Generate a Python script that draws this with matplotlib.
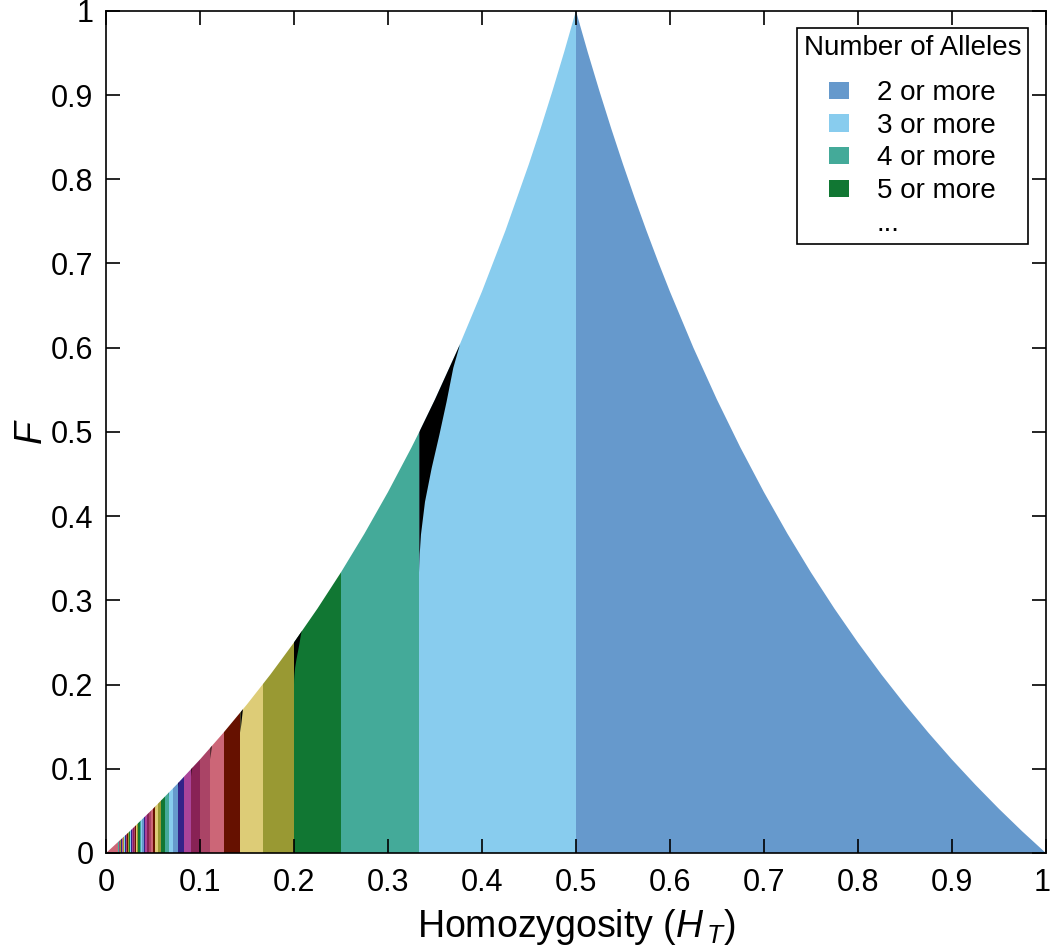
import numpy as np
import matplotlib
matplotlib.use("Agg")
import matplotlib.pyplot as plt
import matplotlib.transforms as mtransforms
from matplotlib.patches import Polygon, Patch

plt.rcParams["font.family"] = ["Liberation Sans", "DejaVu Sans"]
plt.rcParams["mathtext.fontset"] = "custom"
plt.rcParams["mathtext.rm"] = "Liberation Sans"
plt.rcParams["mathtext.it"] = "Liberation Sans:italic"

# upper envelope of attainable F
env_h_left = [0.0, 0.025, 0.05, 0.075, 0.1, 0.125, 0.15, 0.175, 0.2, 0.225, 0.25, 0.275,
              0.3, 0.325, 0.3333, 0.35, 0.375, 0.4, 0.425, 0.45, 0.4625, 0.475, 0.4875, 0.5]
env_f_left = [0.0, 0.0256, 0.0526, 0.0811, 0.1111, 0.1429, 0.1765, 0.2121, 0.25, 0.2903, 0.3333, 0.3793,
              0.4286, 0.4815, 0.5, 0.5385, 0.6, 0.6667, 0.7391, 0.8182, 0.8605, 0.9048, 0.9512, 1.0]
env_h_right = [0.5, 0.5125, 0.525, 0.5375, 0.55, 0.5625, 0.575, 0.5875, 0.6, 0.625, 0.65, 0.675,
               0.7, 0.725, 0.75, 0.775, 0.8, 0.825, 0.85, 0.875, 0.9, 0.925, 0.95, 0.975, 1.0]
env_f_right = [1.0, 0.9512, 0.9048, 0.8605, 0.8182, 0.7778, 0.7391, 0.7021, 0.6667, 0.6, 0.5385, 0.4815,
               0.4286, 0.3793, 0.3333, 0.2903, 0.25, 0.2121, 0.1765, 0.1429, 0.1111, 0.0811, 0.0526, 0.0256, 0.0]

# left edge of each "K or more" band, K = 2, 3, 4, ...
band_left = [0.5, 0.3333, 0.25, 0.2, 0.1667, 0.1429, 0.125, 0.1111, 0.1, 0.0909,
             0.0833, 0.0769, 0.0714, 0.0667, 0.0625, 0.0588, 0.0556, 0.0526, 0.05, 0.0476,
             0.0455, 0.0435, 0.0417, 0.04, 0.0385, 0.037, 0.0357, 0.0345, 0.0333, 0.0323,
             0.0313, 0.0303, 0.0294, 0.0286, 0.0278, 0.027, 0.0263, 0.0256, 0.025, 0.0244,
             0.0238, 0.0233, 0.0227, 0.0222, 0.0217, 0.0213, 0.0208, 0.0204, 0.02, 0.0196,
             0.0192, 0.0189, 0.0185, 0.0182, 0.0179, 0.0175, 0.0172, 0.0169, 0.0167, 0.0164,
             0.0161, 0.0159, 0.0156, 0.0154, 0.0152, 0.0149, 0.0147, 0.0145, 0.0143, 0.0141,
             0.0139, 0.0137, 0.0135, 0.0133, 0.0132, 0.013, 0.0128, 0.0127, 0.0125, 0.0]
palette = ["#6699CC", "#88CCEE", "#44AA99", "#117733", "#999933", "#DDCC77",
           "#661100", "#CC6677", "#AA4466", "#882255", "#AA4499", "#332288"]

# black (unreachable) wedges, K = 3 and 5 traced, smaller odd K as triangles
black_h3 = [0.3333, 0.3338, 0.3351, 0.3394, 0.3465, 0.3546, 0.3624, 0.3695, 0.3759]
black_f3 = [0.333, 0.355, 0.378, 0.417, 0.457, 0.496, 0.536, 0.576, 0.601]
black_h5 = [0.2, 0.2001, 0.2004, 0.2012, 0.2026, 0.2042, 0.2058, 0.2072, 0.2085]
black_f5 = [0.2, 0.2052, 0.2107, 0.2202, 0.2297, 0.239, 0.2486, 0.2582, 0.265]
small_left = [0.1429, 0.1111, 0.0909, 0.0769, 0.0667, 0.0588, 0.0526, 0.0476]
small_bottom = [0.1429, 0.1111, 0.0909, 0.0769, 0.0667, 0.0588, 0.0526, 0.0476]
small_right = [0.1458, 0.1125, 0.0917, 0.0774, 0.067, 0.059, 0.0528, 0.0477]
small_top = [0.172, 0.128, 0.102, 0.085, 0.073, 0.064, 0.057, 0.051]

legend_labels = ["2 or more", "3 or more", "4 or more", "5 or more", "..."]

fig = plt.figure(figsize=(10.5, 9.52), dpi=100)
ax = fig.add_axes([0.101, 0.104, 0.895, 0.8846])

env = Polygon(np.column_stack([env_h_left + env_h_right[1:], env_f_left + env_f_right[1:]]),
              closed=True, transform=ax.transData)

rights = [1.0] + band_left[:-1]
lefts = band_left
cols = [palette[i % len(palette)] for i in range(len(lefts))]
bars = ax.bar(lefts, [1.0] * len(lefts), width=np.array(rights) - np.array(lefts),
              align="edge", color=cols, linewidth=0, zorder=1)
for b in bars:
    b.set_clip_path(env)

def black_patch(h, f):
    pts = list(zip(h, f)) + [(h[-1], 1.0), (h[0], 1.0)]
    p = Polygon(pts, closed=True, facecolor="black", edgecolor="none", zorder=1.2)
    ax.add_patch(p)
    p.set_clip_path(env)

black_patch(black_h3, black_f3)
black_patch(black_h5, black_f5)
for l, b0, r, t in zip(small_left, small_bottom, small_right, small_top):
    black_patch([l, r], [b0, t])

ax.set_xlim(0, 1)
ax.set_ylim(0, 1)
ticks = np.arange(0, 1.01, 0.1)
ax.set_xticks(ticks)
ax.set_yticks(ticks)
ax.set_xticklabels(["%g" % round(t, 1) for t in ticks])
ax.set_yticklabels(["%g" % round(t, 1) for t in ticks])
ax.tick_params(direction="in", length=10, width=1.2, top=True, right=True, labelsize=22)
ax.tick_params(axis="x", pad=11)
ax.tick_params(axis="y", pad=9)
for s in ax.spines.values():
    s.set_linewidth(1.2)

# keep the last x label inside the canvas
last = ax.get_xticklabels()[-1]
last.set_transform(last.get_transform() + mtransforms.ScaledTranslation(-4 / 100, 0, fig.dpi_scale_trans))

ax.set_xlabel(r"Homozygosity ($H_{\,T}$)", fontsize=27, labelpad=6)
ax.set_ylabel(r"$F$", fontsize=27, labelpad=1)

handles = [Patch(facecolor=c, edgecolor="none") for c in palette[:4]]
handles.append(Patch(facecolor="none", edgecolor="none"))
leg = ax.legend(handles, legend_labels, title="Number of Alleles", loc="upper right",
                bbox_to_anchor=(0.981, 0.98), borderaxespad=0, fontsize=20,
                title_fontsize=20, fancybox=False, edgecolor="black",
                handlelength=0.72, handleheight=0.58, handletextpad=1.0,
                labelspacing=0.24, borderpad=0.25)
leg._legend_box.sep = 14  # extra room under the title
leg.get_frame().set_linewidth(1.2)
leg.get_frame().set_alpha(1)

fig.savefig("out.png", dpi=100)
